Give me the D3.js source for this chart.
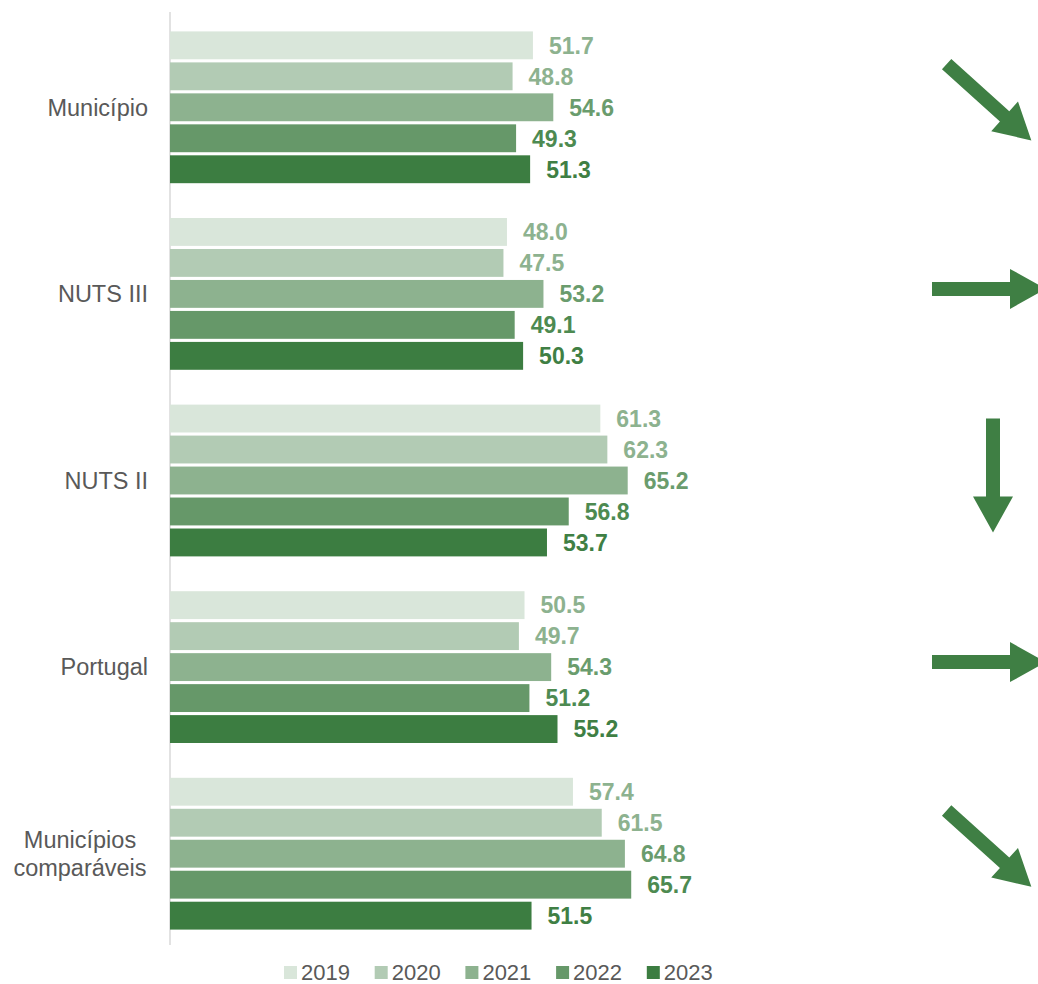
<!DOCTYPE html>
<html><head><meta charset="utf-8">
<script src="https://cdn.jsdelivr.net/npm/d3@7/dist/d3.min.js"></script>
<style>body{margin:0;background:#fff}svg{display:block}text{font-family:"Liberation Sans",Arial,sans-serif}</style>
</head><body><svg id="c" width="1038" height="984"></svg>
<script>
const categories = ["Município","NUTS III","NUTS II","Portugal","Municípios comparáveis"];
const years = ["2019","2020","2021","2022","2023"];
const v2019 = [51.7, 48.0, 61.3, 50.5, 57.4];
const v2020 = [48.8, 47.5, 62.3, 49.7, 61.5];
const v2021 = [54.6, 53.2, 65.2, 54.3, 64.8];
const v2022 = [49.3, 49.1, 56.8, 51.2, 65.7];
const v2023 = [51.3, 50.3, 53.7, 55.2, 51.5];
const trendAngles = [42, 0, 90, 0, 42]; // arrow direction in degrees (0 = right, 90 = down)
const barColors = ["#d9e6da","#b2cbb4","#8db28f","#669869","#3c7d41"];
const labelColors = ["#8db28f","#8db28f","#6a9c6d","#4d8a51","#3f7f44"];

const series = [v2019, v2020, v2021, v2022, v2023];
const svg = d3.select("#c");
const x = d3.scaleLinear().domain([0, 100]).range([170, 872]);
const y0 = d3.scaleBand().domain(categories).range([14, 947]).paddingInner(0.17).paddingOuter(0.085);
const y1 = d3.scaleBand().domain(years).range([0, y0.bandwidth()]).paddingInner(0.1).paddingOuter(0.05);

// axis line
svg.append("line").attr("x1",170).attr("x2",170).attr("y1",12).attr("y2",945)
  .attr("stroke","#d9d9d9").attr("stroke-width",1.5);

const g = svg.append("g");
categories.forEach((c, ci) => {
  years.forEach((yr, yi) => {
    const v = series[yi][ci];
    const yy = y0(c) + y1(yr);
    g.append("rect").attr("x", x(0)).attr("y", yy).attr("width", x(v) - x(0)).attr("height", y1.bandwidth())
      .attr("fill", barColors[yi]);
    g.append("text").attr("x", x(v) + 16).attr("y", yy + y1.bandwidth()/2).attr("dy","0.36em")
      .attr("fill", labelColors[yi]).attr("font-weight","bold").attr("font-size", 23).text(v.toFixed(1));
  });
  // category label
  const words = c === "Municípios comparáveis" ? ["Municípios","comparáveis"] : [c];
  const multi = words.length > 1;
  const cy = y0(c) + y0.bandwidth()/2;
  const t = svg.append("text").attr("text-anchor", multi ? "middle" : "end").attr("fill","#595959").attr("font-size",23.5);
  words.forEach((w, wi) => {
    t.append("tspan").attr("x", multi ? 80 : 148).attr("y", cy + (wi - (words.length-1)/2) * 28).attr("dy","0.35em").text(w);
  });
  // trend arrow
  const L = 114, sw = 14, hw = 40, hl = 36;
  const pts = [[-L/2,-sw/2],[L/2-hl,-sw/2],[L/2-hl,-hw/2],[L/2,0],[L/2-hl,hw/2],[L/2-hl,sw/2],[-L/2,sw/2]];
  svg.append("path").attr("d", d3.line()(pts) + "Z")
    .attr("transform", `translate(${trendAngles[ci] === 90 ? 993 : 989},${cy - 5}) rotate(${trendAngles[ci]})`)
    .attr("fill","#3f7f44");
});

// legend
const lg = svg.append("g").attr("transform","translate(284,966)");
years.forEach((yr, i) => {
  const it = lg.append("g").attr("transform", `translate(${i*90.7},0)`);
  it.append("rect").attr("width",13).attr("height",13).attr("fill",barColors[i]);
  it.append("text").attr("x",17).attr("y",13.5).attr("font-size",22).attr("fill","#595959").text(yr);
});
</script></body></html>
